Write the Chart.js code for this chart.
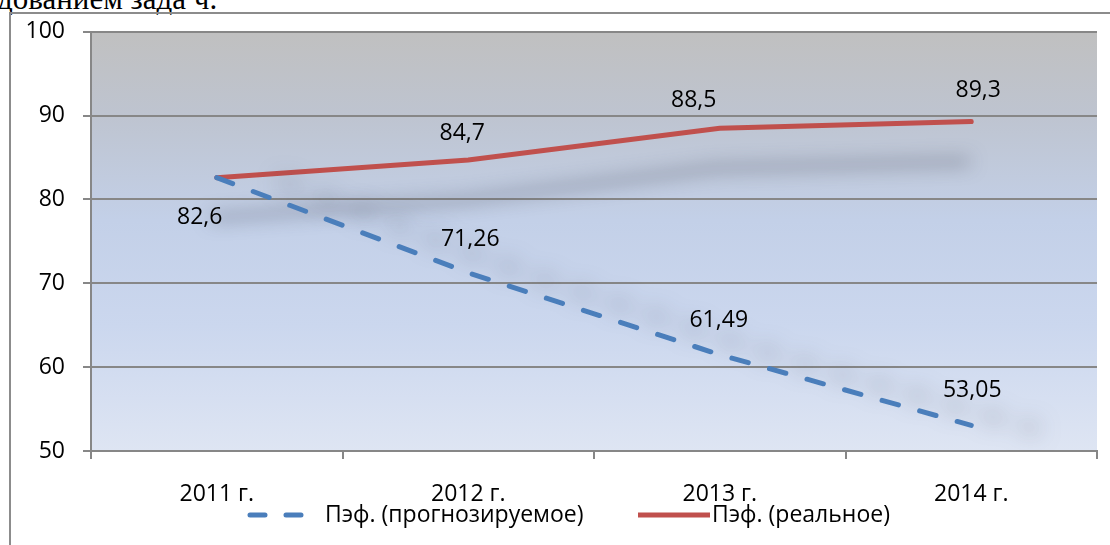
<!DOCTYPE html>
<html>
<head>
<meta charset="utf-8">
<script src="https://cdn.jsdelivr.net/npm/chart.js@4/dist/chart.umd.min.js"></script>
<style>
  html, body {margin: 0; padding: 0; background: #fff; overflow: hidden}
  #wrap {position: relative; width: 1110px; height: 545px}
  #top {position: absolute; left: -3px; top: -19px; font: 31px 'Liberation Serif', serif; color: #000; white-space: nowrap}
  #frame {position: absolute; left: 9px; top: 12px; right: -2px; bottom: -2px; border-left: 2px solid #8c8c8c; border-top: 2px solid #8c8c8c}
  canvas {position: absolute; left: 0; top: 0}
</style>
</head>
<body>
<div id="wrap">
  <div id="top">дованием зада ч.</div>
  <div id="frame"></div>
  <canvas id="chart" width="1110" height="545"></canvas>
</div>
<script>
const years = ['2011 г.', '2012 г.', '2013 г.', '2014 г.']
const forecast = [82.6, 71.26, 61.49, 53.05]
const real = [82.6, 84.7, 88.5, 89.3]
const yTicks = [50, 60, 70, 80, 90, 100]

const fontFamily = "'Open Sans', sans-serif"
const fmt = v => String(v).replace('.', ',')

// фон области построения
const plotBg = {
  id: 'plotBg',
  beforeDraw(chart) {
    const {ctx, chartArea: a} = chart
    const g = ctx.createLinearGradient(0, a.top, 0, a.bottom)
    g.addColorStop(0, 'rgb(192,192,192)')
    g.addColorStop(0.2, 'rgb(190,196,208)')
    g.addColorStop(0.45, 'rgb(195,208,232)')
    g.addColorStop(0.7, 'rgb(203,215,238)')
    g.addColorStop(1, 'rgb(222,229,243)')
    ctx.save()
    ctx.fillStyle = g
    ctx.fillRect(a.left, a.top, a.right - a.left, a.bottom - a.top)
    ctx.restore()
  }
}

// размытая тень под линиями
const lineShadow = {
  id: 'lineShadow',
  beforeDatasetDraw(chart, args) {
    const ds = chart.data.datasets[args.index]
    const ctx = chart.ctx
    ctx.save()
    ctx.shadowColor = ds.shadowColor
    ctx.shadowBlur = ds.shadowBlur
    ctx.shadowOffsetX = ds.shadowX
    ctx.shadowOffsetY = ds.shadowY
  },
  afterDatasetDraw(chart) {
    chart.ctx.restore()
  }
}

// подписи значений
const valueLabels = {
  id: 'valueLabels',
  afterDatasetsDraw(chart) {
    const ctx = chart.ctx
    ctx.save()
    ctx.font = '23px ' + fontFamily
    ctx.fillStyle = '#000'
    ctx.textAlign = 'center'
    ctx.textBaseline = 'middle'
    chart.data.datasets.forEach((ds, i) => {
      chart.getDatasetMeta(i).data.forEach((pt, j) => {
        const sh = ds.labelShift[j]
        if (!sh) return
        ctx.fillText(fmt(ds.data[j]), pt.x + sh[0], pt.y + sh[1])
      })
    })
    ctx.restore()
  }
}

// легенда как в Excel
const bottomLegend = {
  id: 'bottomLegend',
  afterDraw(chart) {
    const ctx = chart.ctx
    const y = 515
    ctx.save()
    ctx.font = '23px ' + fontFamily
    ctx.fillStyle = '#000'
    ctx.textBaseline = 'middle'
    ctx.lineWidth = 5
    ctx.lineCap = 'round'
    const ds = chart.data.datasets
    ctx.strokeStyle = ds[0].borderColor
    ctx.setLineDash([15, 21])
    ctx.beginPath(); ctx.moveTo(250, y); ctx.lineTo(302, y); ctx.stroke()
    ctx.fillText(ds[0].label, 325, y)
    ctx.strokeStyle = ds[1].borderColor
    ctx.setLineDash([])
    ctx.lineCap = 'butt'
    ctx.beginPath(); ctx.moveTo(638, y); ctx.lineTo(710, y); ctx.stroke()
    ctx.fillText(ds[1].label, 712, y)
    ctx.restore()
  }
}

Chart.defaults.font.family = fontFamily
Chart.defaults.font.size = 23
Chart.defaults.color = '#000'

new Chart(document.getElementById('chart'), {
  type: 'line',
  data: {
    labels: years,
    datasets: [
      {
        label: 'Пэф. (прогнозируемое)',
        data: forecast,
        borderColor: '#4a7ebb',
        borderWidth: 5,
        borderDash: [17, 22],
        borderCapStyle: 'round',
        pointRadius: 0,
        shadowColor: 'rgba(70,75,90,0.6)', shadowBlur: 22,
        shadowX: 65, shadowY: 4,
        labelShift: [null, [2, -33], [-1, -34], [1, -35]],
      },
      {
        label: 'Пэф. (реальное)',
        data: real,
        borderColor: '#c0504d',
        borderWidth: 5,
        borderCapStyle: 'round',
        pointRadius: 0,
        shadowColor: 'rgba(70,75,90,0.65)', shadowBlur: 18,
        shadowX: -4, shadowY: 40,
        labelShift: [[-17, 40], [-6, -27], [-26, -28], [7, -31]],
      },
    ],
  },
  options: {
    responsive: false,
    animation: false,
    events: [],
    layout: {padding: {left: 0, top: 28, right: 13, bottom: 0}},
    plugins: {legend: {display: false}, tooltip: {enabled: false}},
    scales: {
      x: {
        offset: true,
        grid: {offset: true, drawOnChartArea: false, tickLength: 8, color: '#878787', lineWidth: 2},
        border: {color: '#878787', width: 2},
        ticks: {padding: 22},
        afterFit: s => { s.height = 94 },
      },
      y: {
        min: 50,
        max: 100,
        afterBuildTicks: s => { s.ticks = yTicks.map(v => ({value: v})) },
        grid: {tickLength: 8, color: '#878787', lineWidth: 2},
        border: {color: '#878787', width: 2},
        ticks: {padding: 18},
        afterFit: s => { s.width = 91 },
      },
    },
  },
  plugins: [plotBg, lineShadow, valueLabels, bottomLegend],
})
</script>
</body>
</html>
